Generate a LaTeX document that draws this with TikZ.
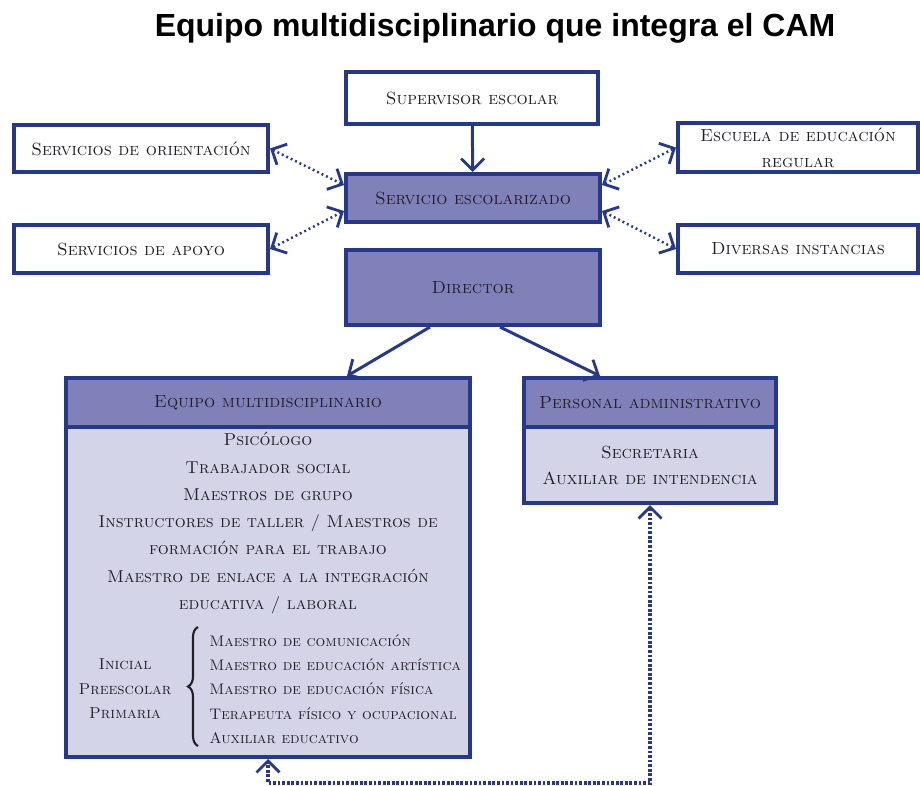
\documentclass[tikz,border=0pt]{standalone}
\usepackage{fontspec}
\newfontfamily\camtitlefont{Liberation Sans}
\usepackage{tikz}
\usetikzlibrary{arrows.meta}
\usetikzlibrary{decorations.pathreplacing}

\definecolor{camblue}{HTML}{25388C}
\definecolor{camfill}{HTML}{8181BA}
\definecolor{camlight}{HTML}{D4D4E9}
\definecolor{camtext}{HTML}{231F28}

\newcommand{\camsc}{\fontsize{10}{14.8}\selectfont\scshape}
\newcommand{\camsmall}{\fontsize{8.7}{13.8}\selectfont\scshape}

\tikzset{
  whitebox/.style={draw=camblue, line width=2.3pt, fill=white, inner sep=0pt,
    align=center, font=\camsc, text=camtext},
  darkbox/.style={whitebox, fill=camfill},
  lightbox/.style={whitebox, fill=camlight},
  plaintext/.style={inner sep=0pt, font=\camsc, text=camtext},
  barb/.tip={Straight Barb[length=2.3mm, width=4.6mm, line width=1.6pt]},
  solidlink/.style={draw=camblue, line width=1.7pt, -barb},
  dotlink/.style={draw=camblue, line width=1.4pt, dash pattern=on 1.1pt off 1.7pt, barb-barb},
  looplink/.style={draw=camblue, line width=1.8pt, dash pattern=on 1.6pt off 1pt, barb-barb}
}

\begin{document}
\begin{tikzpicture}
  \begin{scope}[x=0.02cm, y=-0.02cm]
    \useasboundingbox (0,0) rectangle (920,785);

    % title
    \node (title) at (495,28) {\camtitlefont\bfseries\fontsize{18.2}{22}\selectfont Equipo multidisciplinario que integra el CAM};

    % upper row
    \node[whitebox, minimum width=5.04cm, minimum height=1.04cm] (sup) at (472,98) {Supervisor escolar};
    \node[darkbox, minimum width=5.08cm, minimum height=0.96cm] (serv) at (473,198) {Servicio escolarizado};
    \node[darkbox, minimum width=5.08cm, minimum height=1.5cm] (dir) at (473,287.5) {Director};

    \node[whitebox, minimum width=5.08cm, minimum height=0.94cm] (orient) at (141,148.5) {Servicios de orientación};
    \node[whitebox, minimum width=5.08cm, minimum height=0.96cm] (apoyo) at (141,249) {Servicios de apoyo};
    \node[whitebox, minimum width=4.8cm, minimum height=0.98cm] (escuela) at (798,147.5) {Escuela de educación\\regular};
    \node[whitebox, minimum width=4.8cm, minimum height=0.96cm] (diversas) at (798,249) {Diversas instancias};

    % equipo multidisciplinario
    \node[darkbox, minimum width=8.08cm, minimum height=0.98cm] (eqhead) at (268,402.5) {Equipo multidisciplinario};
    \node[lightbox, minimum width=8.08cm, minimum height=6.6cm] (eqbody) at (268,592) {};
    \node[plaintext, align=center, font=\fontsize{9.8}{15.5}\selectfont\scshape] (eqlist) at (268,523) {Psicólogo\\Trabajador social\\Maestros de grupo\\Instructores de taller / Maestros de\\formación para el trabajo\\Maestro de enlace a la integración\\educativa / laboral};
    \node[plaintext, align=center, font=\fontsize{9}{13.9}\selectfont\scshape] (niveles) at (125,689) {Inicial\\Preescolar\\Primaria};
    \node[plaintext, anchor=west, align=left, font=\camsmall] (maestros) at (209,689) {Maestro de comunicación\\Maestro de educación artística\\Maestro de educación física\\Terapeuta físico y ocupacional\\Auxiliar educativo};
    \coordinate (llaveb) at (198,746);
    \coordinate (llavea) at (198,627);
    \draw[camtext, line width=1.2pt, decorate, decoration={brace, amplitude=0.2cm}] (llaveb) -- (llavea);

    % personal administrativo
    \node[darkbox, minimum width=5.04cm, minimum height=0.98cm] (adhead) at (650,402.5) {Personal administrativo};
    \node[lightbox, minimum width=5.04cm, minimum height=1.52cm] (adbody) at (650,465) {Secretaria\\Auxiliar de intendencia};

    % connectors
    \draw[solidlink] (sup) -- (serv);
    \draw[solidlink] ([xshift=-0.86cm]dir.south) -- ([xshift=1.58cm]eqhead.north);
    \draw[solidlink] ([xshift=0.54cm]dir.south) -- ([xshift=-1cm]adhead.north);

    \draw[dotlink] ([yshift=0.26cm]serv.west) -- (orient.east);
    \draw[dotlink] ([yshift=-0.26cm]serv.west) -- (apoyo.east);
    \draw[dotlink] ([yshift=0.26cm]serv.east) -- (escuela.west);
    \draw[dotlink] ([yshift=-0.26cm]serv.east) -- (diversas.west);

    \coordinate (fondo) at (0,783);
    \draw[looplink] (adbody.south) -- (adbody.south |- fondo) -- (eqbody.south |- fondo) -- (eqbody.south);
  \end{scope}
\end{tikzpicture}
\end{document}
